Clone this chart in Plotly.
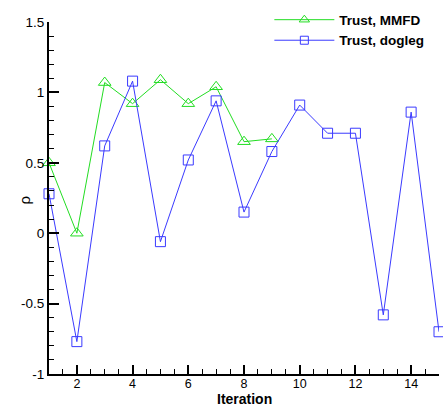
import plotly.graph_objects as go

iter_mmfd = [1, 2, 3, 4, 5, 6, 7, 8, 9]
rho_mmfd = [0.50, 0.00, 1.07, 0.92, 1.09, 0.92, 1.04, 0.65, 0.67]

iter_dog = [1, 2, 3, 4, 5, 6, 7, 8, 9, 10, 11, 12, 13, 14, 15]
rho_dog = [0.28, -0.77, 0.62, 1.08, -0.06, 0.52, 0.94, 0.15, 0.58, 0.91, 0.71, 0.71, -0.58, 0.86, -0.70]

x_ticks = [2, 4, 6, 8, 10, 12, 14]
y_tickvals = [-1, -0.5, 0, 0.5, 1, 1.5]
y_ticktext = ["-1", "-0.5", "0", "0.5", "1", "1.5"]

GREEN = "#22dd22"
BLUE = "#3a3aff"
FONT = "Liberation Sans, Arial, sans-serif"

fig = go.Figure()
fig.add_trace(go.Scatter(
    x=iter_mmfd, y=rho_mmfd, name="MMFD", mode="lines+markers", showlegend=False,
    line=dict(color=GREEN, width=1),
    marker=dict(symbol="triangle-up-open", size=11, color=GREEN, line=dict(width=1)),
    cliponaxis=False,
))
fig.add_trace(go.Scatter(
    x=iter_dog, y=rho_dog, name="dogleg", mode="lines+markers", showlegend=False,
    line=dict(color=BLUE, width=1),
    marker=dict(symbol="square-open", size=10, color=BLUE, line=dict(width=1)),
    cliponaxis=False,
))
# legend entries (smaller symbols, as in the reference legend)
fig.add_trace(go.Scatter(
    x=[None], y=[None], name="<b>Trust, MMFD</b>", mode="lines+markers",
    line=dict(color=GREEN, width=1),
    marker=dict(symbol="triangle-up-open", size=9, color=GREEN, line=dict(width=1)),
))
fig.add_trace(go.Scatter(
    x=[None], y=[None], name="<b>Trust, dogleg</b>", mode="lines+markers",
    line=dict(color=BLUE, width=1),
    marker=dict(symbol="square-open", size=8, color=BLUE, line=dict(width=1)),
))

plot_w = 443 - 49 - 4
plot_h = 408 - 20 - 34

fig.update_layout(
    width=443, height=408,
    margin=dict(l=49, r=4, t=20, b=34),
    paper_bgcolor="white", plot_bgcolor="white",
    font=dict(family=FONT, size=13, color="black"),
    showlegend=True,
    legend=dict(x=0.565, y=1.05, xanchor="left", yanchor="top",
                bgcolor="rgba(0,0,0,0)", font=dict(size=13.5, family=FONT),
                itemwidth=60, tracegroupgap=0),
    xaxis=dict(range=[1, 15], tickvals=x_ticks, ticks="inside", ticklen=9, tickwidth=2,
               tickcolor="black", showline=True, linewidth=2, linecolor="black",
               showgrid=False, zeroline=False, tickfont=dict(size=12.5),
               ticklabelstandoff=-3,
               minor=dict(dtick=0.5, tick0=0, ticks="inside", ticklen=5, tickwidth=1, tickcolor="black")),
    yaxis=dict(range=[-1, 1.5], tickvals=y_tickvals, ticktext=y_ticktext, ticks="inside",
               ticklen=10, tickwidth=2, tickcolor="black", showline=True, linewidth=2,
               linecolor="black", showgrid=False, zeroline=False, tickfont=dict(size=13.5),
               minor=dict(dtick=0.1, tick0=0, ticks="inside", ticklen=5, tickwidth=1, tickcolor="black")),
    annotations=[
        dict(text="ρ", x=(14 - 49) / plot_w, y=(408 - 34 - 199) / plot_h,
             xref="paper", yref="paper", showarrow=False,
             textangle=-90, font=dict(size=15, family=FONT)),
        dict(text="<b>Iteration</b>", x=(244 - 49) / plot_w, y=-(399.5 - 374) / plot_h,
             xref="paper", yref="paper", showarrow=False, yanchor="middle",
             font=dict(size=14, family=FONT)),
    ],
)

fig.write_html("out.html")
